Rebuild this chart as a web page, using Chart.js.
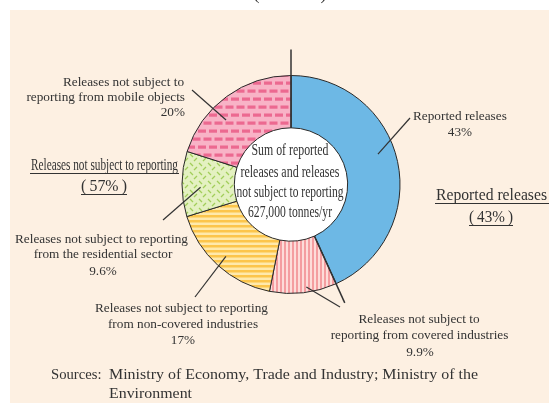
<!DOCTYPE html>
<html>
<head>
<meta charset="utf-8">
<script src="https://cdn.jsdelivr.net/npm/chart.js@4.4.1/dist/chart.umd.min.js"></script>
<style>
  html, body { margin: 0; padding: 0; background: #fff; }
  canvas { display: block; }
</style>
</head>
<body>
<canvas id="chart" width="549" height="403"></canvas>
<script>
// breakdown of releases, clockwise from 12 o'clock
const categories = ['Reported releases', 'Not subject to reporting: covered industries', 'Not subject to reporting: non-covered industries', 'Not subject to reporting: residential sector', 'Not subject to reporting: mobile objects'];
const shares = [43, 9.9, 17, 9.6, 20];
const groupNames = ['Reported releases', 'Releases not subject to reporting'];
const groupShares = [43, 57];
const totalTonnes = 627000;

const SERIF = '"Liberation Serif", "Times New Roman", serif';
const INK = '#333';

const canvas = document.getElementById('chart');
const ctx = canvas.getContext('2d');

function tile(w, h, bg, fg, paint) {
    const c = document.createElement('canvas');
    c.width = w; c.height = h;
    const g = c.getContext('2d');
    g.fillStyle = bg; g.fillRect(0, 0, w, h);
    g.fillStyle = fg; g.strokeStyle = fg;
    paint(g);
    return ctx.createPattern(c, 'repeat');
}

const fills = [
    '#6db8e5',
    tile(4, 4, '#fddcd9', '#f49da0', g => g.fillRect(0, 0, 2, 4)),
    tile(4, 5, '#ffe9ab', '#fcc54b', g => g.fillRect(0, 0, 4, 2.5)),
    tile(9, 9, '#e4f1c1', '#a2ce5a', g => {
        g.lineWidth = 1.3;
        g.beginPath();
        g.moveTo(1, 1); g.lineTo(4, 4);
        g.moveTo(5, 8); g.lineTo(8, 5);
        g.stroke();
    }),
    tile(11, 16, '#f8b3c6', '#ec6990', g => {
        g.fillRect(0, 1.5, 8, 3.2);
        g.fillRect(5.5, 9.5, 8, 3.2);
        g.fillRect(-5.5, 9.5, 8, 3.2);
    })
];

// draw text squeezed or stretched to a given width
function fitText(text, x, y, size, width, align) {
    ctx.save();
    ctx.font = size + 'px ' + SERIF;
    ctx.textAlign = align || 'center';
    ctx.textBaseline = 'middle';
    ctx.fillStyle = INK;
    const natural = ctx.measureText(text).width;
    const sx = width ? width / natural : 1;
    ctx.translate(x, y);
    ctx.scale(sx, 1);
    ctx.fillText(text, 0, 0);
    ctx.restore();
}

function line(x1, y1, x2, y2, w) {
    ctx.save();
    ctx.strokeStyle = INK;
    ctx.lineWidth = w || 1.2;
    ctx.beginPath();
    ctx.moveTo(x1, y1);
    ctx.lineTo(x2, y2);
    ctx.stroke();
    ctx.restore();
}

const pct = v => v + '%';
const paren = v => '(\u2009' + v + '%\u2009)';

// slice callouts: text lines, where the leader ends outside, and where it lands on the slice
const callouts = [
    { lines: [['Reported releases', 413, 117, 'left'], [pct(shares[0]), 460, 133]],
      from: [410, 118], nudge: -7, depth: 0.845 },
    { lines: [['Releases not subject to', 419, 320], ['reporting from covered industries', 419.5, 336], [pct(shares[1]), 420, 353]],
      from: [340, 307], nudge: -2, depth: 0.95 },
    { lines: [['Releases not subject to reporting', 181.5, 309], ['from non-covered industries', 183, 325], [pct(shares[2]), 183, 341]],
      from: [195, 297], nudge: 0, depth: 0.89 },
    { lines: [['Releases not subject to reporting', 101.5, 240], ['from the residential sector', 103, 255], [pct(shares[3]), 103, 272]],
      from: [163, 220], nudge: -2, depth: 0.83 },
    { lines: [['Releases not subject to', 184, 83, 'right'], ['reporting from mobile objects', 185, 98, 'right'], [pct(shares[4]), 185, 113, 'right']],
      from: [192, 90], nudge: -9, depth: 0.84 }
];

const decor = {
    id: 'decor',
    beforeDraw(chart) {
        const c = chart.ctx;
        c.save();
        c.fillStyle = '#ffffff';
        c.fillRect(0, 0, chart.width, chart.height);
        c.fillStyle = '#fdf0e2';
        c.fillRect(10, 10, chart.width - 10, chart.height - 10);
        c.restore();
        // heading sits above the panel, mostly out of view
        fitText('(\u2009FY2009\u2009)', 290, -4, 15, 72);
    },
    beforeDatasetsDraw(chart) {
        const arc = chart.getDatasetMeta(0).data[0];
        const c = chart.ctx;
        c.save();
        c.fillStyle = '#ffffff';
        c.beginPath();
        c.arc(arc.x, arc.y, arc.innerRadius, 0, Math.PI * 2);
        c.fill();
        c.restore();
    },
    afterDatasetsDraw(chart) {
        const arcs = chart.getDatasetMeta(0).data;
        const first = arcs[0];
        const cx = first.x, cy = first.y, R = first.outerRadius, r = first.innerRadius;

        // split between reported and not-reported, carried past the rim
        const split = (a, ext) => line(cx + Math.cos(a) * r, cy + Math.sin(a) * r,
                                       cx + Math.cos(a) * (R + ext), cy + Math.sin(a) * (R + ext), 1.5);
        split(first.startAngle, 26);
        split(first.endAngle, 21);

        callouts.forEach((co, i) => {
            const a = arcs[i];
            const mid = (a.startAngle + a.endAngle) / 2 + co.nudge * Math.PI / 180;
            const rr = R * co.depth;
            line(co.from[0], co.from[1], cx + Math.cos(mid) * rr, cy + Math.sin(mid) * rr);
            co.lines.forEach(([t, x, y, align]) => fitText(t, x, y, 13.25, null, align));
        });

        // total in the hole
        const hole = [['Sum of reported', 151, 77], ['releases and releases', 173, 99],
                      ['not subject to reporting', 193, 107], [totalTonnes.toLocaleString('en-US') + ' tonnes/yr', 213, 84]];
        hole.forEach(([t, y, w]) => fitText(t, cx - 1, y, 16, w));

        // group totals, underlined
        fitText(groupNames[1], 104.5, 166, 16, 147);
        line(30, 173.5, 179, 173.5, 1);
        fitText(paren(groupShares[1]), 104, 187, 16, 46);
        line(81, 194.5, 127, 194.5, 1);

        fitText(groupNames[0], 436, 196, 17, 111, 'left');
        line(435, 203.5, 549, 203.5, 1);
        fitText(paren(groupShares[0]), 491, 218, 16, 44);
        line(469, 225.5, 513, 225.5, 1);

        fitText('Sources:', 51, 375, 15.5, 50.5, 'left');
        fitText('Ministry of Economy, Trade and Industry; Ministry of the', 109, 375, 15.5, 369, 'left');
        fitText('Environment', 109, 394, 15.5, 83, 'left');
    }
};

new Chart(ctx, {
    type: 'doughnut',
    data: {
        labels: categories,
        datasets: [{
            data: shares,
            backgroundColor: fills,
            borderColor: '#2a2a2a',
            borderWidth: 1,
            hoverOffset: 0
        }]
    },
    options: {
        responsive: false,
        animation: false,
        radius: 109,
        cutout: '52%',
        layout: { padding: { left: 171, right: 138, top: 64, bottom: 98 } },
        plugins: {
            legend: { display: false },
            tooltip: { enabled: false }
        },
        events: []
    },
    plugins: [decor]
});
</script>
</body>
</html>
